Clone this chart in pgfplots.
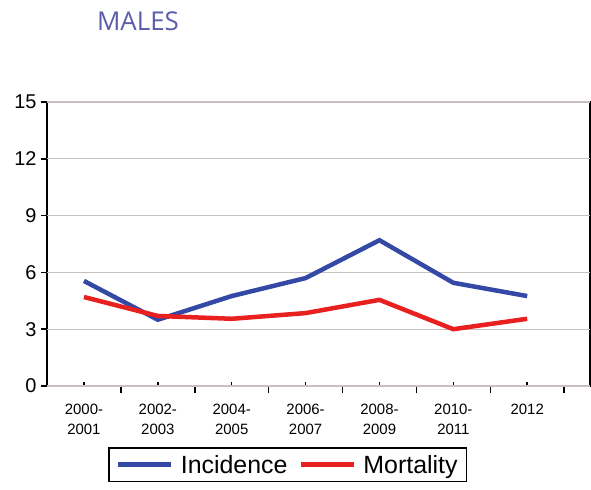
\documentclass[border=0pt]{standalone}
\usepackage{pgfplots}
\pgfplotsset{compat=1.18}
\usepackage{fontspec}
\setmainfont{Liberation Sans}
\newfontfamily\titlefont{Open Sans}
\definecolor{incblue}{RGB}{52,72,165}
\definecolor{mortred}{RGB}{232,32,32}
\definecolor{gridc}{RGB}{200,192,192}
\definecolor{titlec}{RGB}{92,92,172}
\begin{document}
\begin{tikzpicture}
\clip (0,0) rectangle (591bp,490bp);
\path[use as bounding box] (0,0) rectangle (591bp,490bp);
\node[font=\titlefont\fontsize{26}{28}\selectfont, text=titlec, anchor=center] at (138bp,469bp) {MALES};
\begin{axis}[
  at={(47bp,104bp)}, anchor=south west,
  scale only axis, width=543bp, height=284bp,
  xmin=-0.5, xmax=6.85, ymin=0, ymax=15,
  axis line style={black, line width=1.8bp},
  ytick=\empty,
  extra y ticks={0,3,6,9,12,15},
  extra y tick style={tick align=outside, major tick length=6bp, grid=major},
  major grid style={gridc, line width=1.2bp},
  xtick={0,...,6},
  xtick pos=bottom, ytick pos=left,
  xticklabels={{2000-\\2001},{2002-\\2003},{2004-\\2005},{2006-\\2007},{2008-\\2009},{2010-\\2011},{2012}},
  x tick label style={align=center, font=\fontsize{15}{20}\selectfont, yshift=-15bp},
  y tick label style={font=\fontsize{20}{22}\selectfont, xshift=-1bp},
  /pgf/number format/assume math mode=true,
  tick style={black, line width=1.5bp},
  tick align=inside,
  major tick length=4bp,
  extra x ticks={0.5,1.5,2.5,3.5,4.5,5.5,6.5},
  extra x tick labels={},
  extra x tick style={tick align=outside, major tick length=7bp, grid=none},
  legend style={at={(0.1123,-0.215)}, anchor=north west, legend columns=2,
    draw=black, line width=1.8bp, font=\fontsize{25}{28}\selectfont,
    inner xsep=7bp, inner ysep=5bp,
    /tikz/every odd column/.append style={column sep=5bp},
    /tikz/every even column/.append style={column sep=9bp}},
  legend image code/.code={\draw[#1, line width=5bp] (0bp,0bp) -- (53bp,0bp);},
  clip=false,
]
\addplot[incblue, line width=4.5bp] coordinates {(0,5.55) (1,3.5) (2,4.75) (3,5.7) (4,7.7) (5,5.45) (6,4.75)};
\addlegendentry{Incidence}
\addplot[mortred, line width=4.5bp] coordinates {(0,4.7) (1,3.7) (2,3.55) (3,3.85) (4,4.55) (5,3.0) (6,3.55)};
\addlegendentry{Mortality}
\end{axis}
\end{tikzpicture}
\end{document}
